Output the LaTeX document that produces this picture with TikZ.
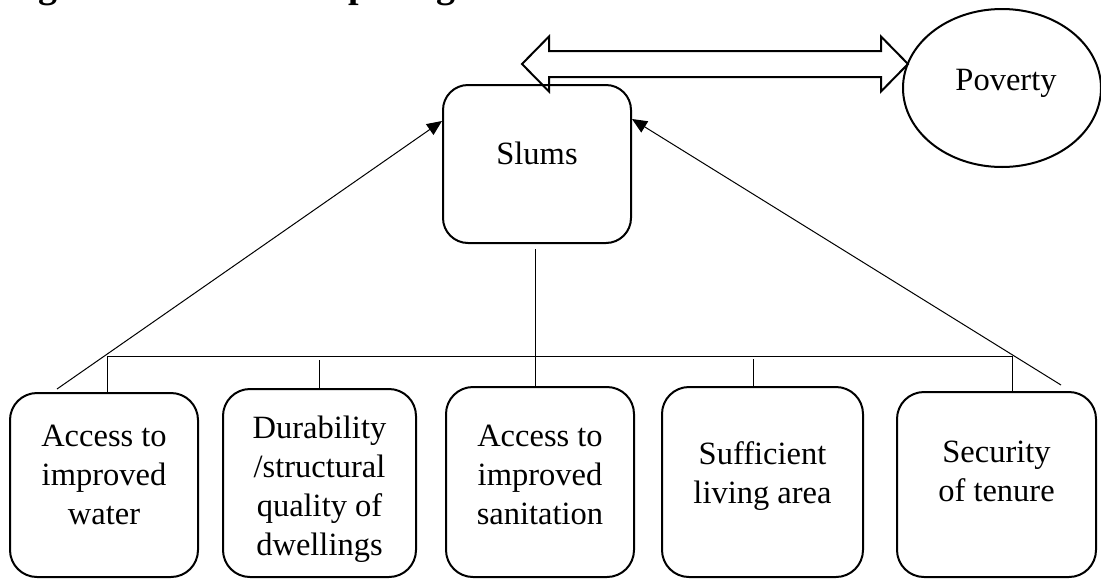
\documentclass[tikz,border=0pt]{standalone}
\usepackage{fontspec}
\setmainfont{Liberation Serif}
\usetikzlibrary{arrows.meta,shapes.geometric,calc}

\begin{document}
\begin{tikzpicture}[x=1pt,y=-1pt,
  box/.style={draw, line width=2pt, rounded corners=27pt, inner sep=0pt},
  lbl/.style={inner sep=0pt, anchor=north, align=center,
              font=\fontsize{32.5}{39}\selectfont},
  link/.style={line width=1pt},
  toarrow/.style={line width=1pt, -{Triangle[length=15pt,width=13pt]}},
  bigarrow/.style={draw, line width=2pt, line join=miter},
]
\useasboundingbox (0,0) rectangle (1101,579);

% caption, cut off at the top edge
\begin{scope}
  \clip (0,0) rectangle (1101,579);
  \node[anchor=base west, inner sep=0pt,
        font=\bfseries\fontsize{37.9}{45}\selectfont] (title) at (5,-3)
        {Figure 1: Relationship Diagram};
\end{scope}

% central box and the poverty ellipse
\node[box, rounded corners=25pt, minimum width=188pt, minimum height=158pt] (slums) at (537,164) {};
\node[lbl] (slumst) at (537,142) {Slums};

\node[draw, ellipse, line width=2pt, inner sep=0pt,
      minimum width=198pt, minimum height=158pt] (pov) at (1002,88) {};
\node[lbl] (povt) at (1006,69) {Poverty};

% two-headed block arrow between slums and poverty
\draw[bigarrow] (522,64) -- (549,36.5) -- (549,51) -- (881,51) -- (881,36.5)
  -- (908,64) -- (881,91.5) -- (881,77) -- (549,77) -- (549,91.5) -- cycle;

% indicator boxes
\node[box, minimum width=188pt, minimum height=184pt] (b1) at (104,485) {};
\node[box, minimum width=193pt, minimum height=188pt] (b2) at (319.5,483) {};
\node[box, minimum width=188pt, minimum height=190pt] (b3) at (540,482) {};
\node[box, minimum width=201pt, minimum height=190pt] (b4) at (762.5,482) {};
\node[box, minimum width=199pt, minimum height=185pt] (b5) at (996.5,484.5) {};

\node[lbl] (t1) at (104,425) {Access to\\improved\\water};
\node[lbl] (t2) at (319.5,416) {Durability\\/structural\\quality of\\dwellings};
\node[lbl] (t3) at (540,425) {Access to\\improved\\sanitation};
\node[lbl] (t4) at (762.5,441) {Sufficient\\living area};
\node[lbl] (t5) at (996.5,441) {Security\\of tenure};

% horizontal bus joining the indicators
\coordinate (busL) at (107,356);
\coordinate (busR) at (1012,356);
\draw[link] (busL) -- (busR);
\draw[link] (busL) -- (busL |- b1.north);
\draw[link] ($(b2.north)+(0,-28)$) -- (b2.north);
\coordinate (sv) at ($(slums.south)+(-2,5)$);
\draw[link] (sv) -- (sv |- b3.north);
\draw[link] ($(b4.north)+(-9,-27)$) -- ($(b4.north)+(-9,0)$);
\draw[link] (busR) -- (busR |- b5.north);

% diagonal arrows into the slums box
\coordinate (dL) at (57,389);
\coordinate (dR) at (1061,385);
\draw[toarrow] (dL) -- ($(slums.north west)+(0,37)$);
\draw[toarrow] (dR) -- ($(slums.north east)+(0,35)$);
\end{tikzpicture}
\end{document}
